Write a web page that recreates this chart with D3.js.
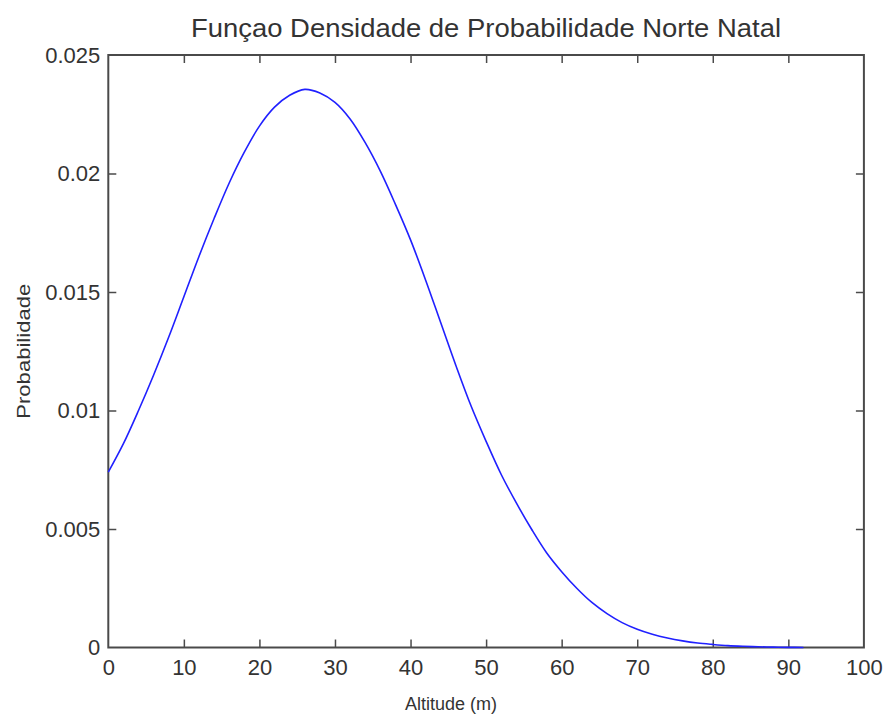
<!DOCTYPE html>
<html>
<head>
<meta charset="utf-8">
<script src="https://cdn.jsdelivr.net/npm/d3@7"></script>
<style>
  html, body { margin: 0; padding: 0; background: #fff; }
  svg { display: block; }
  text { font-family: "Liberation Sans", Arial, sans-serif; fill: #333; }
</style>
</head>
<body>
<svg id="chart" width="885" height="715"></svg>
<script>
// ---- data ----
const altitude = [0, 2, 4, 6, 8, 10, 12, 14, 16, 18, 20, 22, 24, 26, 28, 30, 32, 34, 36, 38, 40,
  42, 44, 46, 48, 50, 52, 54, 56, 58, 60, 62, 64, 66, 68, 70, 72, 74, 76, 78, 80, 82, 84, 86, 88, 90, 92];
const probability = [0.0074, 0.0086, 0.0100, 0.0115, 0.0131, 0.0148, 0.0165, 0.0181, 0.0196, 0.0209, 0.0220,
  0.0228, 0.0233, 0.02355, 0.0234, 0.0230, 0.0223, 0.0213, 0.0201, 0.0187, 0.0172,
  0.0155, 0.0137, 0.0119, 0.0102, 0.0087, 0.0073, 0.0061, 0.0050, 0.0040, 0.0032,
  0.0025, 0.0019, 0.00143, 0.00105, 0.00077, 0.00056, 0.00040, 0.00028, 0.00019, 0.00013,
  0.00008, 0.00005, 0.00003, 0.000015, 0.000007, 0];
const xTicks = [0, 10, 20, 30, 40, 50, 60, 70, 80, 90, 100];
const yTicks = [0, 0.005, 0.01, 0.015, 0.02, 0.025];
const yTickLabels = ["0", "0.005", "0.01", "0.015", "0.02", "0.025"];
const titleText = "Funçao Densidade de Probabilidade Norte Natal";
const xLabelText = "Altitude (m)";
const yLabelText = "Probabilidade";

// ---- layout ----
const pLeft = 108.3, pRight = 863.9, pTop = 55, pBottom = 647.5;
const svg = d3.select("#chart");
const x = d3.scaleLinear().domain([0, 100]).range([pLeft, pRight]);
const y = d3.scaleLinear().domain([0, 0.025]).range([pBottom, pTop]);

const axisColor = "#4a4a4a";
const fontSize = 22;

// bottom axis
const gB = svg.append("g").attr("transform", `translate(0,${pBottom})`)
  .call(d3.axisBottom(x).tickValues(xTicks).tickFormat(d3.format("d")).tickSizeInner(-8).tickSizeOuter(0).tickPadding(12));
// top axis (ticks only)
const gT = svg.append("g").attr("transform", `translate(0,${pTop})`)
  .call(d3.axisTop(x).tickValues(xTicks).tickFormat("").tickSizeInner(-8).tickSizeOuter(0));
// left axis
const gL = svg.append("g").attr("transform", `translate(${pLeft},0)`)
  .call(d3.axisLeft(y).tickValues(yTicks).tickFormat((d, i) => yTickLabels[i]).tickSizeInner(-8).tickSizeOuter(0).tickPadding(8));
// right axis (ticks only)
const gR = svg.append("g").attr("transform", `translate(${pRight},0)`)
  .call(d3.axisRight(y).tickValues(yTicks).tickFormat("").tickSizeInner(-8).tickSizeOuter(0));

[gB, gT, gL, gR].forEach(g => {
  g.select(".domain").remove();
  g.selectAll(".tick line").attr("stroke", axisColor).attr("stroke-width", 1.5);
  g.selectAll("text").attr("font-size", fontSize).attr("fill", "#333")
    .style("font-family", '"Liberation Sans", Arial, sans-serif');
});
[gB, gT].forEach(g => g.selectAll(".tick").filter(d => d === 0 || d === 100).select("line").remove());
[gL, gR].forEach(g => g.selectAll(".tick").filter(d => d === 0 || d === 0.025).select("line").remove());

// box
svg.append("rect")
  .attr("x", pLeft).attr("y", pTop)
  .attr("width", pRight - pLeft).attr("height", pBottom - pTop)
  .attr("fill", "none").attr("stroke", axisColor).attr("stroke-width", 2);

// curve
const line = d3.line().x((d, i) => x(altitude[i])).y(d => y(d)).curve(d3.curveCatmullRom.alpha(0.5));
svg.append("path")
  .datum(probability)
  .attr("d", line)
  .attr("fill", "none")
  .attr("stroke", "#2020ff")
  .attr("stroke-width", 1.6);

// title
svg.append("text")
  .attr("x", 486).attr("y", 37)
  .attr("text-anchor", "middle")
  .attr("font-size", 26)
  .attr("textLength", 590).attr("lengthAdjust", "spacingAndGlyphs")
  .text(titleText);

// x label
svg.append("text")
  .attr("x", 451).attr("y", 710)
  .attr("text-anchor", "middle")
  .attr("font-size", 18)
  .attr("textLength", 92).attr("lengthAdjust", "spacingAndGlyphs")
  .text(xLabelText);

// y label
svg.append("text")
  .attr("transform", `translate(30,${(pTop + pBottom) / 2}) rotate(-90)`)
  .attr("text-anchor", "middle")
  .attr("font-size", 19)
  .attr("textLength", 135).attr("lengthAdjust", "spacingAndGlyphs")
  .text(yLabelText);
</script>
</body>
</html>
